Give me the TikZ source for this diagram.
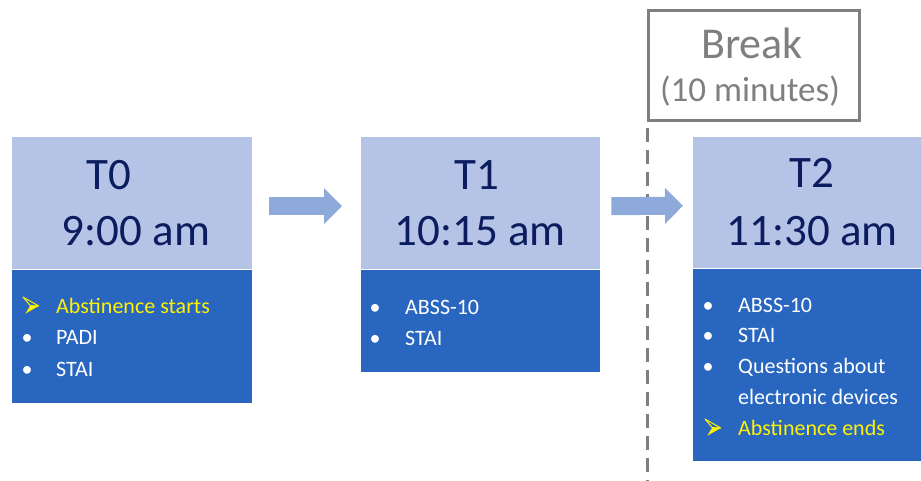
\documentclass[tikz,border=0pt]{standalone}
\usepackage{fontspec}
\setmainfont{Carlito}
\usetikzlibrary{arrows.meta}
\definecolor{hdr}{HTML}{B4C3E6}
\definecolor{bdy}{HTML}{2866C0}
\definecolor{navy}{HTML}{0B1D5E}
\definecolor{arr}{HTML}{8EAADB}
\definecolor{yel}{HTML}{FFF200}
\definecolor{gr}{HTML}{7F7F7F}
\tikzset{
  hdrbox/.style={fill=hdr, draw=none, inner sep=0pt, anchor=north west, minimum height=132pt},
  bodybox/.style={fill=bdy, draw=none, inner sep=0pt, anchor=north west},
  hdrtxt/.style={text=navy, inner sep=0pt, anchor=base, font=\fontsize{45}{50}\selectfont},
  btxt/.style={text=white, inner sep=0pt, anchor=base west, font=\fontsize{22}{26}\selectfont},
  ytxt/.style={btxt, text=yel},
  bul/.style={text=white, inner sep=0pt, anchor=base, font=\fontsize{22}{26}\selectfont},
  blockarr/.style={arr, line width=18pt, -{Triangle[length=18pt, width=35pt]}},
  brktxt/.style={text=gr, inner sep=0pt, anchor=base},
  yarrow/.pic={
    \fill[yel] (7.3,8.6) -- (15.7,9) -- (2.3,16.7) -- cycle;
    \draw[yel, line width=1pt, line join=round] (0,0) -- (15.7,9) -- (7.3,8.6) -- cycle;
  },
}
\begin{document}
\begin{tikzpicture}[x=1pt,y=-1pt]
\useasboundingbox (0,0) rectangle (921,481);
% boxes
\node[hdrbox, minimum width=240pt] (h0) at (12,137) {};
\node[bodybox, minimum width=240pt, minimum height=133pt] (b0) at (h0.south west) {};
\node[hdrbox, minimum width=239pt] (h1) at (361,137) {};
\node[bodybox, minimum width=239pt, minimum height=102pt] (b1) at (h1.south west) {};
\node[hdrbox, minimum width=228pt, minimum height=131pt] (h2) at (693,137) {};
\node[bodybox, minimum width=228pt, minimum height=192pt] (b2) at (h2.south west) {};
% break
\node[draw=gr, line width=3pt, minimum width=211pt, minimum height=110pt, anchor=north west, inner sep=0pt] (brk) at (647,9) {};
\coordinate (dend) at (647,481);
\draw[gr, line width=3pt, dash pattern=on 14pt off 8pt] ([yshift=-6pt]brk.south west) -- (dend);
\node[brktxt, font=\fontsize{44}{50}\selectfont] (bk1) at (752,59) {Break};
\node[brktxt, font=\fontsize{35}{40}\selectfont] (bk2) at (750,102) {(10 minutes)};
% arrows
\draw[blockarr] ([xshift=17pt,yshift=-3pt]h0.east) -- ([xshift=-19pt,yshift=-3pt]h1.west);
\draw[blockarr] ([xshift=11pt,yshift=-3pt]h1.east) -- ([xshift=-10pt,yshift=-3pt]h2.west);
% headers text
\node[hdrtxt] (t0) at (109,190) {T0};
\node[hdrtxt] (t0t) at (136,245) {9:00 am};
\node[hdrtxt] (t1) at (477,190) {T1};
\node[hdrtxt] (t1t) at (480,245) {10:15 am};
\node[hdrtxt] (t2) at (812,188) {T2};
\node[hdrtxt] (t2t) at (812,245) {11:30 am};
% T0 list
\pic at (23,297) {yarrow};
\node[ytxt] (l01) at (56,313) {Abstinence starts};
\node[bul] (u02) at (27,344) {•};
\node[btxt] (l02) at (56,344) {PADI};
\node[bul] (u03) at (27,376) {•};
\node[btxt] (l03) at (56,376) {STAI};
% T1 list
\node[bul] (u11) at (375,314) {•};
\node[btxt] (l11) at (405,314) {ABSS-10};
\node[bul] (u12) at (375,345) {•};
\node[btxt] (l12) at (405,345) {STAI};
% T2 list
\node[bul] (u21) at (708,312) {•};
\node[btxt] (l21) at (738,312) {ABSS-10};
\node[bul] (u22) at (708,342) {•};
\node[btxt] (l22) at (738,342) {STAI};
\node[bul] (u23) at (708,373) {•};
\node[btxt] (l23) at (738,373) {Questions about};
\node[btxt] (l24) at (738,404) {electronic devices};
\pic at (705,419) {yarrow};
\node[ytxt] (l25) at (738,435) {Abstinence ends};
\end{tikzpicture}
\end{document}
